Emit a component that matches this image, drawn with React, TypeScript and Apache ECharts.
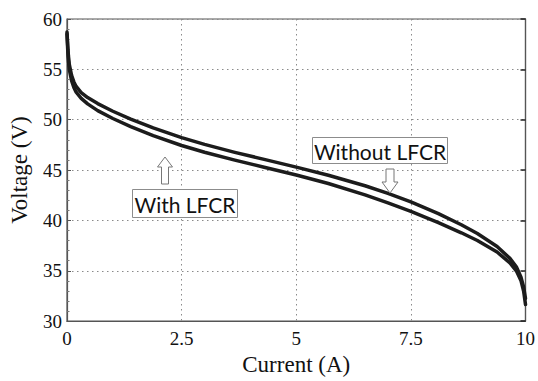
import React, { useEffect, useRef } from "react";
import * as echarts from "echarts";

const currents = [0, 0.015, 0.03, 0.05, 0.1, 0.15, 0.2, 0.31, 0.45, 0.67, 1.0, 1.39, 1.88, 2.5, 3.0, 3.66, 4.3, 5.0, 5.7, 6.5, 7.0, 7.5, 8.1, 8.6, 8.95, 9.38, 9.66, 9.8, 9.9, 9.96, 10];
const withoutLFCR = [58.7, 57.4, 56.4, 55.5, 54.4, 53.75, 53.3, 52.7, 52.2, 51.6, 50.84, 50.06, 49.18, 48.22, 47.55, 46.76, 46.06, 45.29, 44.48, 43.44, 42.69, 41.84, 40.67, 39.57, 38.7, 37.41, 36.23, 35.39, 34.39, 33.37, 32.25];
const withLFCR = [58.5, 57.0, 55.94, 55.0, 53.88, 53.2, 52.73, 52.12, 51.57, 50.9, 50.12, 49.32, 48.42, 47.44, 46.77, 45.98, 45.28, 44.51, 43.66, 42.54, 41.74, 40.89, 39.77, 38.77, 38.0, 36.86, 35.78, 34.99, 34.04, 32.97, 31.65];
const xTicks = { min: 0, max: 10, interval: 2.5 };
const yTicks = { min: 30, max: 60, interval: 5 };
const labels = { with: "With LFCR", without: "Without LFCR", x: "Current (A)", y: "Voltage (V)" };

const serif = "'Liberation Serif', 'Times New Roman', serif";
const sans = "Lato, 'Open Sans', sans-serif";

export default function App() {
  const ref = useRef<HTMLDivElement>(null);
  useEffect(() => {
    if (!ref.current) return;
    const chart = echarts.init(ref.current, undefined, { renderer: "svg" });
    const lineColor = "#1c1c1c";
    const axisColor = "#555";
    const grid = "#8a8a8a";
    const boxStroke = "#8c8c8c";
    chart.setOption({
      animation: false,
      backgroundColor: "#ffffff",
      grid: { left: 62, right: 9, top: 19, bottom: 48, show: true, borderColor: axisColor, borderWidth: 1.2 },
      xAxis: [
        {
          type: "value",
          min: xTicks.min,
          max: xTicks.max,
          interval: xTicks.interval,
          name: labels.x,
          nameLocation: "middle",
          nameGap: 30,
          nameTextStyle: { fontFamily: serif, fontSize: 23, color: "#111" },
          axisLine: { show: true, onZero: false, lineStyle: { color: axisColor, width: 1.2 } },
          axisTick: { show: false },
          axisLabel: { fontFamily: serif, fontSize: 19, color: "#111", margin: 8 },
          splitLine: { show: true, lineStyle: { type: [1.5, 3.5], color: grid, width: 1 } },
        },
      ],
      yAxis: [
        {
          type: "value",
          min: yTicks.min,
          max: yTicks.max,
          interval: yTicks.interval,
          name: labels.y,
          nameLocation: "middle",
          nameGap: 36,
          nameTextStyle: { fontFamily: serif, fontSize: 23, color: "#111" },
          axisLine: { show: true, lineStyle: { color: axisColor, width: 1.2 } },
          axisTick: { show: true, inside: true, length: 4, lineStyle: { color: axisColor } },
          minorTick: { show: true, splitNumber: 5, length: 2.5, lineStyle: { color: "#777" } },
          axisLabel: { fontFamily: serif, fontSize: 19, color: "#111", margin: 5 },
          splitLine: { show: true, lineStyle: { type: [1.5, 3.5], color: grid, width: 1 } },
        },
        {
          type: "value",
          position: "right",
          min: yTicks.min,
          max: yTicks.max,
          interval: yTicks.interval,
          axisLine: { show: true, lineStyle: { color: axisColor, width: 1.2 } },
          axisTick: { show: true, inside: true, length: 5, lineStyle: { color: "#222", width: 1.5 } },
          axisLabel: { show: false },
          splitLine: { show: false },
        },
      ],
      series: [
        {
          name: labels.without,
          type: "line",
          showSymbol: false,
          smooth: false,
          data: currents.map((c, i) => [c, withoutLFCR[i]]),
          lineStyle: { color: lineColor, width: 3.5, join: "round", cap: "round" },
        },
        {
          name: labels.with,
          type: "line",
          showSymbol: false,
          smooth: false,
          data: currents.map((c, i) => [c, withLFCR[i]]),
          lineStyle: { color: lineColor, width: 3.5, join: "round", cap: "round" },
        },
      ],
      graphic: [
        {
          type: "polygon",
          shape: { points: [[165, 157], [172.5, 167], [168.5, 167], [168.5, 184], [161.5, 184], [161.5, 167], [157.5, 167]] },
          style: { fill: "#fff", stroke: "#777", lineWidth: 1 },
          z: 100,
        },
        {
          type: "rect",
          shape: { x: 132.5, y: 189.5, width: 105, height: 28 },
          style: { fill: "#fff", stroke: boxStroke, lineWidth: 1 },
          z: 100,
        },
        {
          type: "text",
          x: 185,
          y: 204,
          style: { text: labels.with, font: `21px ${sans}`, fill: "#111", align: "center", verticalAlign: "middle" },
          z: 101,
        },
        {
          type: "rect",
          shape: { x: 312.5, y: 137.5, width: 135, height: 26 },
          style: { fill: "#fff", stroke: boxStroke, lineWidth: 1 },
          z: 100,
        },
        {
          type: "text",
          x: 380,
          y: 151,
          style: { text: labels.without, font: `21px ${sans}`, fill: "#111", align: "center", verticalAlign: "middle" },
          z: 101,
        },
        {
          type: "polygon",
          shape: { points: [[390, 193], [398, 182], [394, 182], [394, 169], [386, 169], [386, 182], [382, 182]] },
          style: { fill: "#fff", stroke: "#777", lineWidth: 1 },
          z: 100,
        },
      ],
    });
    return () => chart.dispose();
  }, []);
  return <div ref={ref} style={{ width: 538, height: 381, position: "absolute", left: 0, top: 0 }} />;
}
